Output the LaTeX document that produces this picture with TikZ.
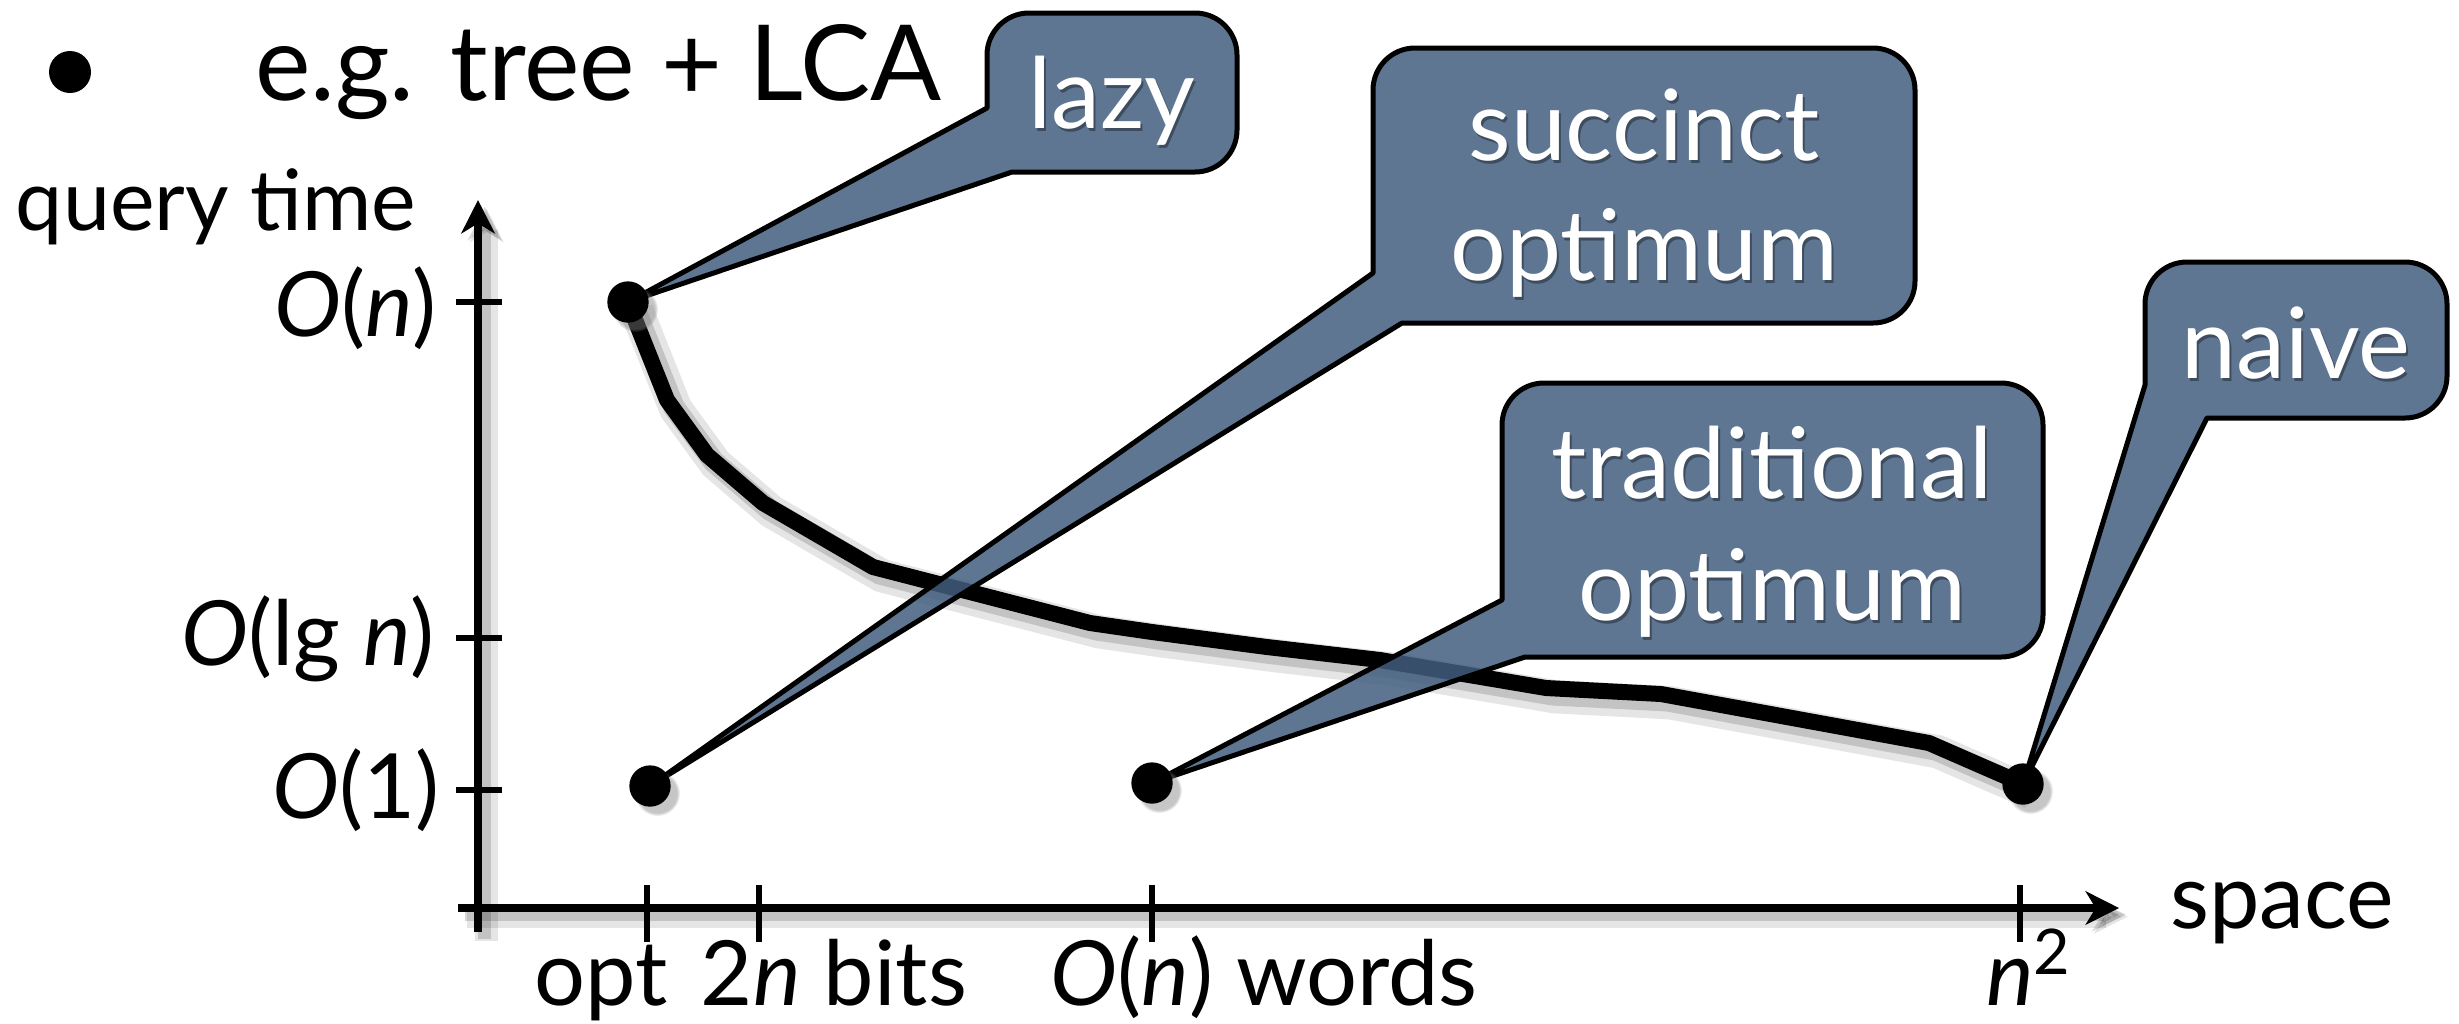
\documentclass[tikz,border=0pt]{standalone}
\usepackage{fontspec}
\setmainfont{Lato}
\usetikzlibrary{arrows.meta,shadows}
\definecolor{calloutfill}{RGB}{66,94,127}
\begin{document}
\begin{tikzpicture}[x=0.3pt, y=-0.3pt,
  txt/.style={font=\fontsize{27}{32}\selectfont, inner sep=0pt, outer sep=0pt},
  ctxt/.style={txt, font=\fontsize{29.5}{34}\selectfont, text=white},
  ctxtsh/.style={ctxt, text=black, text opacity=0.35},
  axisline/.style={line width=2.4pt,
    preaction={draw=black, opacity=0.10, line width=7pt, transform canvas={xshift=2.6pt, yshift=-2.6pt}},
    preaction={draw=black, opacity=0.15, line width=4pt, transform canvas={xshift=2pt, yshift=-2pt}}},
  axistip/.style={-{Stealth[length=10pt, width=10pt, inset=3pt]}},
  tickline/.style={line width=2pt},
  tradeoff/.style={line width=4.8pt, line join=round, line cap=round,
    preaction={draw=black, opacity=0.10, line width=10pt, transform canvas={xshift=2.6pt, yshift=-2.6pt}},
    preaction={draw=black, opacity=0.15, line width=6.5pt, transform canvas={xshift=2pt, yshift=-2pt}}},
  callout/.style={fill=calloutfill, fill opacity=0.85, draw=black, line width=1.5pt, line join=round},
  dot/.style={circle, fill=black, inner sep=0pt, minimum size=12.4pt,
    circular drop shadow={shadow xshift=2pt, shadow yshift=-2pt, opacity=0.45, shadow scale=1.1}},
]
\useasboundingbox (0,0) rectangle (2459,1023);

% heading
\fill (70,72) circle[radius=21];
\node[txt, font=\fontsize{31.5}{36}\selectfont, anchor=base west] (head) at (255,100) {e.g. tree + LCA};

% axes
\coordinate (ybot) at (478,932);
\coordinate (ytop) at (478,200);
\coordinate (xleft) at (458,908);
\coordinate (xright) at (2119,908);
\draw[axisline, axistip] (ybot) -- (ytop);
\draw[axisline, axistip] (xleft) -- (xright);
\node[txt, font=\fontsize{25.3}{30}\selectfont, anchor=base west] (ylab) at (16,230) {query time};
\node[txt, anchor=base west] (xlab) at (2170,928) {space};

% ticks on the time axis
\foreach \yy in {302,638,790} \draw[tickline] (456,\yy) -- (502,\yy);
\node[txt, anchor=base east] (tOn) at (437,336) {\textit{O}(\textit{n})};
\node[txt, anchor=base east] (tOlg) at (435,665) {\textit{O}(lg \textit{n})};
\node[txt, anchor=base east] (tOone) at (440,818) {\textit{O}(1)};

% ticks on the space axis
\foreach \xx in {647,759,1152,2020} \draw[tickline] (\xx,885) -- (\xx,942);
\node[txt, anchor=base] (sOpt) at (601,1005) {opt};
\node[txt, anchor=base] (sBits) at (834,1005) {2\textit{n} bits};
\node[txt, anchor=base] (sWords) at (1264,1005) {\textit{O}(\textit{n}) words};
\node[txt, anchor=base] (sSq) at (2029,1005) {\textit{n}\textsuperscript{2}};

% data points
\coordinate (lazyPt) at (628,302);
\coordinate (succPt) at (650,786);
\coordinate (tradPt) at (1152,783);
\coordinate (naivePt) at (2023,784);

% trade-off curve
\draw[tradeoff] (lazyPt) -- (667,400) -- (707,455) -- (763,503) -- (873,567)
  -- (1090,623) -- (1152,632) -- (1267,647) -- (1380,660) -- (1546,688)
  -- (1661,694) -- (1929,743) -- (naivePt);

% callouts
\draw[callout] (lazyPt) -- (987,108) -- (987,55)
  arc[start angle=180, end angle=270, radius=42] -- (1195,13)
  arc[start angle=270, end angle=360, radius=42] -- (1237,130)
  arc[start angle=0, end angle=90, radius=42] -- (1012,172) -- cycle;
\draw[callout] (succPt) -- (1373,273) -- (1373,90)
  arc[start angle=180, end angle=270, radius=42] -- (1873,48)
  arc[start angle=270, end angle=360, radius=42] -- (1915,281)
  arc[start angle=0, end angle=90, radius=42] -- (1402,323) -- cycle;
\draw[callout] (tradPt) -- (1502,600) -- (1502,425)
  arc[start angle=180, end angle=270, radius=42] -- (2001,383)
  arc[start angle=270, end angle=360, radius=42] -- (2043,615)
  arc[start angle=0, end angle=90, radius=42] -- (1525,657) -- cycle;
\draw[callout] (naivePt) -- (2145,385) -- (2145,304)
  arc[start angle=180, end angle=270, radius=42] -- (2405,262)
  arc[start angle=270, end angle=360, radius=42] -- (2447,376)
  arc[start angle=0, end angle=90, radius=42] -- (2207,418) -- cycle;

% dots
\node[dot] (lazyDot) at (lazyPt) {};
\node[dot] (succDot) at (succPt) {};
\node[dot] (tradDot) at (tradPt) {};
\node[dot] (naiveDot) at (naivePt) {};

% callout texts
\node[ctxtsh, anchor=base] (lazyS) at (1114,131) {lazy};
\node[ctxt, anchor=base] (lazyT) at (1112,128) {lazy};
\node[ctxtsh, anchor=base] (succS1) at (1646,163) {succinct};
\node[ctxt, anchor=base] (succT1) at (1644,160) {succinct};
\node[ctxtsh, anchor=base] (succS2) at (1646,283) {optimum};
\node[ctxt, anchor=base] (succT2) at (1644,280) {optimum};
\node[ctxtsh, anchor=base] (tradS1) at (1774,501) {traditional};
\node[ctxt, anchor=base] (tradT1) at (1772,498) {traditional};
\node[ctxtsh, anchor=base] (tradS2) at (1774,623) {optimum};
\node[ctxt, anchor=base] (tradT2) at (1772,620) {optimum};
\node[ctxtsh, anchor=base] (naiveS) at (2298,381) {naive};
\node[ctxt, anchor=base] (naiveT) at (2296,378) {naive};
\end{tikzpicture}
\end{document}
